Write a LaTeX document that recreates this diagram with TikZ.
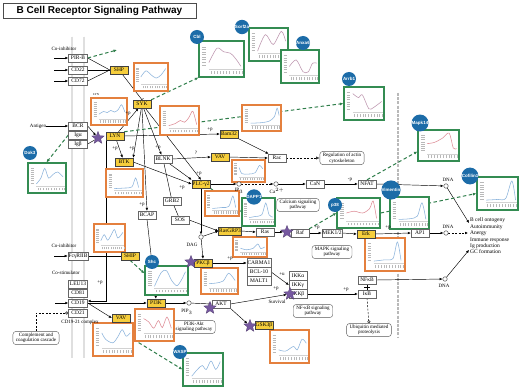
\documentclass[tikz,border=0pt]{standalone}
\usepackage{fontspec}
\setmainfont{Liberation Serif}
\newfontfamily\headfont{Liberation Sans}
\usetikzlibrary{arrows.meta, positioning, shapes.geometric}

\definecolor{kgyellow}{RGB}{246,206,60}
\definecolor{kgorange}{RGB}{228,128,62}
\definecolor{kggreen}{RGB}{52,140,82}
\definecolor{kgblue}{RGB}{28,108,168}
\definecolor{kgpurple}{RGB}{118,88,160}
\definecolor{kgline}{RGB}{140,180,220}
\definecolor{kgpink}{RGB}{222,140,150}
\definecolor{kgmauve}{RGB}{190,150,175}

\pgfdeclarelayer{bg}
\pgfsetlayers{bg,main}

\newcommand{\genefont}{\fontsize{5.5}{6}\selectfont}
\newcommand{\notefont}{\fontsize{5}{5.6}\selectfont}
\newcommand{\dotfont}{\headfont\bfseries\fontsize{4.5}{5}\selectfont}

% expression panel: name, style, x1, y1, x2, y2, colour, profile
\newcommand{\datapanel}[8]{%
  \node[#2, minimum width={#5pt-#3pt}, minimum height={#6pt-#4pt}] (#1) at ({(#3+#5)/2},{(#4+#6)/2}) {};
  \begin{scope}[shift={(#3,#6)}, xscale={(#5-#3)/10}, yscale={-(#6-#4)/10}]
    \foreach \k in {3.4,4.1,...,9} \draw[gray!55, line width=0.5pt] (0.7,\k) -- (1.6,\k);
    \foreach \k in {2.6,3.3,...,9.6} \draw[gray!55, line width=0.4pt] (\k,0.9) -- (\k,1.8);
    \draw[gray!35, line width=0.3pt] (2.2,2.3) -- (9.7,2.3);
    \draw[#7, line width=0.55pt] plot[smooth, tension=0.5] coordinates {#8};
  \end{scope}}

\begin{document}
\begin{tikzpicture}[x=1pt, y=-1pt,
    gene/.style={draw=black!75, fill=kgyellow, font=\genefont, inner sep=0.6pt, minimum width=18pt, minimum height=8pt},
    wgene/.style={gene, fill=white, draw=black!60},
    rec/.style={wgene, minimum width=19pt},
    cpd/.style={circle, draw=black!80, fill=white, inner sep=0pt, minimum size=4.5pt},
    pway/.style={draw=black!65, fill=white, rounded corners=3pt, align=center, font=\notefont, inner xsep=3pt, inner ysep=1.5pt},
    lbl/.style={font=\notefont, inner sep=0pt},
    obox/.style={draw=kgorange, line width=1.1pt, fill=white, inner sep=0pt},
    gbox/.style={draw=kggreen, line width=1.1pt, fill=white, inner sep=0pt},
    bdot/.style={circle, fill=kgblue, text=white, font=\dotfont, inner sep=0pt, minimum size=14pt},
    pstar/.style={star, star points=5, star point ratio=2.3, fill=kgpurple, draw=kgpurple!70!black, line width=0.3pt, inner sep=0pt, minimum size=13pt},
    membrane/.style={draw=gray!70, line width=0.8pt, double=gray!25, double distance=1.2pt},
    nucmem/.style={draw=gray!55, line width=2.6pt, dash pattern=on 3pt off 1.2pt},
    arr/.style={-{Latex[length=3pt, width=2.6pt]}, line width=0.45pt},
    ln/.style={line width=0.45pt},
    inh/.style={-{Bar[width=4pt]}, line width=0.45pt},
    darr/.style={arr, dash pattern=on 2pt off 1.5pt},
    garr/.style={-{Latex[length=3.5pt, width=3pt]}, draw=kggreen!90!black, line width=1pt, dash pattern=on 3.5pt off 2.5pt}
]
\useasboundingbox (0,0) rectangle (520,390);

\node[draw=black!70, fill=white, font=\headfont\bfseries\fontsize{10}{12}\selectfont, minimum width=193pt, minimum height=15pt, inner sep=0pt] (title) at (99.5,10.5) {B Cell Receptor Signaling Pathway};

% pathway maps
\node[pway] (actin) at (342,158) {Regulation of actin\\cytoskeleton};
\node[pway] (calcium) at (298,205) {Calcium signaling\\pathway};
\node[pway] (mapk) at (332,252) {MAPK signaling\\pathway};
\node[pway] (nfkbpath) at (313,311) {NF-κB signaling\\pathway};
\node[pway] (pi3kpath) at (194,327) {PI3K-Akt\\signaling pathway};
\node[pway] (ubiq) at (369,330) {Ubiquitin mediated\\proteolysis};
\node[pway] (compl) at (36,338) {Complement and\\coagulation cascade};

% expression panels
\datapanel{dshp}{obox}{134}{63}{168}{91}{kgline}{(2,5) (3.5,7.2) (5,5.8) (6.5,4.6) (8,5.8) (9.3,8)}
\datapanel{dlyn}{obox}{91}{98}{127}{125}{kgline}{(2.2,4) (3.5,5) (4.5,4.6) (5.5,5.4) (6.5,4.8) (7.5,5.6) (8.5,7.5) (9.4,4.8)}
\datapanel{dsyk}{obox}{160}{106}{199}{135}{kgpink}{(2.2,3.2) (4,4) (5.2,5) (6.3,4.4) (7.4,6) (8.4,8.2) (9.4,3.6)}
\datapanel{dbam}{obox}{242}{105}{281}{131}{kgline}{(2.2,3) (5,3.2) (7,3.8) (8.3,5.5) (9,8.8) (9.5,6)}
\datapanel{dbtk}{obox}{106}{169}{143}{197}{kgline}{(2.2,3) (5,3.2) (7,3.6) (8,6.8) (8.8,3.4)}
\datapanel{dvav}{obox}{232}{160}{265}{182}{kgline}{(2.2,6.5) (3,3.8) (5,3.6) (7,4.2) (8.3,7.5) (9.3,6)}
\datapanel{dplc}{obox}{205}{191}{239}{216}{kgline}{(2.2,3) (5,3.4) (7,3.8) (8.2,8) (9,3.4)}
\datapanel{dship}{obox}{94}{224}{125}{252}{kgline}{(2.2,4) (3.3,6.2) (4.4,4.2) (5.5,6) (6.6,8) (7.7,5) (9.3,7)}
\datapanel{dras}{obox}{233}{237}{267}{257}{kgline}{(2.2,4.4) (4,3.6) (6,4.4) (7.3,6.5) (8.2,4.2) (9.3,5)}
\datapanel{derk}{obox}{365}{238}{405}{271}{kgline}{(2.2,3) (5,3.4) (7,3.8) (8.1,8.8) (9,3.2)}
\datapanel{dpkc}{obox}{201}{268}{238}{294}{kgline}{(2.2,4) (4,4.2) (6,5) (7.5,8) (9.2,5.2)}
\datapanel{dpi}{obox}{135}{309}{174}{341}{kgpink}{(2.2,7) (3.5,6) (4.8,4) (6,6.4) (7,4.2) (8.2,7.5) (9.3,4)}
\datapanel{dvavb}{obox}{93}{323}{133}{356}{kgline}{(2.2,7) (3.2,5) (5,4) (6.3,6) (7.3,8) (8.3,6) (9.3,7)}
\datapanel{dgsk}{obox}{270}{330}{309}{363}{kgline}{(2.2,4) (4,3.6) (6,5) (7,4) (8.2,7.2) (9.3,6)}
\datapanel{dcbl}{gbox}{199}{41}{244}{77}{kgmauve}{(2.2,4) (4,8) (5.5,7) (7,6.6) (8.2,5) (9.3,3)}
\datapanel{dsorf}{gbox}{249}{28}{288}{61}{kgmauve}{(2.2,3) (4.2,8) (6.2,5) (8.3,9) (9.4,6)}
\datapanel{danx}{gbox}{281}{50}{319}{83}{kgmauve}{(2.2,5) (4,7) (5.8,3.4) (7.2,3.4) (8.3,6) (9.4,6)}
\datapanel{darrb}{gbox}{344}{87}{384}{120}{kgmauve}{(2.2,8) (3.6,6.8) (4.6,7.6) (6.2,3.4) (7.4,3.8) (9.4,5.6)}
\datapanel{dmapk}{gbox}{418}{130}{459}{161}{kgpink}{(2.2,5.6) (4,6) (6,7.4) (7.6,9) (8.6,4.2) (9.4,4)}
\datapanel{dcof}{gbox}{477}{177}{518}{210}{kgline}{(2.2,3) (5,3.2) (7,3.5) (8.5,8.8) (9.4,3)}
\datapanel{dvim}{gbox}{390}{197}{429}{229}{kgline}{(2.2,3) (5,3.2) (7,4) (8.2,8.2) (9.2,3)}
\datapanel{dp38}{gbox}{337}{198}{380}{228}{kgpink}{(2.2,5) (4,5.6) (6,5) (7.6,6.5) (8.4,9) (9.2,3.2)}
\datapanel{ddapp}{gbox}{242}{198}{275}{226}{kgline}{(2.2,3) (4,3.4) (6,4) (7.2,8.2) (8.2,4) (9.3,3.2)}
\datapanel{ddok}{gbox}{28}{163}{66}{193}{kgline}{(2.2,3) (3.4,5) (4.4,8.2) (5.4,5) (6.6,6.2) (7.8,7) (9.2,5.4)}
\datapanel{dshc}{gbox}{145}{266}{188}{295}{kgline}{(2.2,3) (3.8,7.8) (5,8.4) (6.2,5) (7.4,3.2) (8.4,5) (9.4,8)}
\datapanel{dwasp}{gbox}{183}{353}{223}{386}{kgline}{(2.2,3) (3.6,5) (4.8,6.2) (5.8,5) (7,7.6) (8.2,5) (9.3,7.4)}

% receptors in the membrane
\node[rec] (pirb) at (78,58) {PIR-B};
\node[rec] (cd22) at (78,70) {CD22};
\node[rec] (cd72) at (78,81) {CD72};
\node[rec] (bcr) at (78,126) {BCR};
\node[rec] (iga) at (78,135) {Igα};
\node[rec] (igb) at (78,144) {Igβ};
\node[rec] (fcg) at (78,256) {FcγRIIB};
\node[rec] (leu) at (78,284) {LEU13};
\node[rec] (cd81) at (78,293) {CD81};
\node[rec] (cd19) at (78,303) {CD19};
\node[rec] (cd21) at (78,313) {CD21};

% genes
\node[gene] (shp) at (119,70) {SHP};
\node[gene] (syk) at (142,104) {SYK};
\node[gene] (lyn) at (115,136) {LYN};
\node[gene] (btk) at (124,162) {BTK};
\node[wgene] (blnk) at (163,159) {BLNK};
\node[gene] (bam) at (229,134) {Bam32};
\node[gene] (vav) at (220,157) {VAV};
\node[wgene] (rac) at (277,158) {Rac};
\node[gene] (plc) at (201,184) {PLC-γ2};
\node[wgene] (grb) at (172,201) {GRB2};
\node[wgene] (sos) at (180,220) {SOS};
\node[wgene] (bcap) at (147,215) {BCAP};
\node[wgene] (can) at (315,184) {CaN};
\node[wgene] (nfat) at (367,184) {NFAT};
\node[gene] (rasgrp) at (230,231) {RasGRP3};
\node[wgene] (ras) at (265,232) {Ras};
\node[wgene] (raf) at (300,233) {Raf};
\node[wgene] (mek) at (332,233) {MEK1/2};
\node[gene] (erk) at (366,234) {Erk};
\node[wgene] (ap1) at (420,233) {AP1};
\node[gene] (pkc) at (203,263) {PKCβ};
\node[wgene, minimum width=24pt, minimum height=9pt] (carma) at (259,263) {CARMA1};
\node[wgene, minimum width=24pt, minimum height=9pt] (bcl) at (259,272) {BCL-10};
\node[wgene, minimum width=24pt, minimum height=9pt] (malt) at (259,281) {MALT1};
\node[wgene, minimum height=9pt] (ikka) at (298,276) {IKKα};
\node[wgene, minimum height=9pt] (ikkg) at (298,285) {IKKγ};
\node[wgene, minimum height=9pt] (ikkb) at (298,294) {IKKβ};
\node[gene] (shipb) at (130,256) {SHIP};
\node[gene] (pi3k) at (156,303) {PI3K};
\node[wgene] (akt) at (221,304) {AKT};
\node[gene] (vavb) at (121,318) {VAV};
\node[gene] (gsk) at (264,325) {GSK3β};
\node[wgene] (nfkb) at (367,280) {NFκB};
\node[wgene] (ikb) at (367,294) {IκB};

% compounds
\node[cpd] (ip3) at (239,184) {};
\node[cpd] (ca) at (276,184) {};
\node[cpd] (dag) at (201,237) {};
\node[cpd] (pip3) at (189,303) {};
\node[cpd] (dna1) at (446,186) {};
\node[cpd] (dna2) at (446,233) {};
\node[cpd] (dna3) at (445,279) {};

% texts
\node[lbl] (coinh1) at (64,49) {Co-inhibitor};
\node[lbl] (antigen) at (38,126) {Antigen};
\node[lbl] (coinh2) at (64,246) {Co-inhibitor};
\node[lbl] (costim) at (66,273) {Co-stimulator};
\node[lbl] (cdcplx) at (80,322) {CD19-21 complex};
\node[lbl] (surv) at (277,302) {Survival};
\node[lbl, font=\fontsize{3}{3}\selectfont] (lyntag) at (96,95) {LYN};
\node[lbl] (ip3t) at (239,191) {IP$_3$};
\node[lbl] (cat) at (277,191) {Ca$^{2+}$};
\node[lbl] (dagt) at (192,245) {DAG};
\node[lbl] (pip3t) at (187,312) {PIP$_3$};
\node[lbl] (dnat1) at (448,180) {DNA};
\node[lbl] (dnat2) at (448,227) {DNA};
\node[lbl] (dnat3) at (444,286) {DNA};
\node[lbl, anchor=west, align=left, font=\fontsize{5.5}{6.4}\selectfont] (outc) at (470,236) {B cell ontogeny\\Autoimmunity\\Anergy\\Immune response\\Ig production\\GC formation};
\node[lbl] (p1) at (128,114) {+p};
\node[lbl] (p2) at (115,149) {+p};
\node[lbl] (p3) at (132,149) {+p};
\node[lbl] (p4) at (158,148) {+p};
\node[lbl] (p5) at (199,174) {+p};
\node[lbl] (p6) at (182,188) {+p};
\node[lbl] (p7) at (142,205) {+p};
\node[lbl] (p8) at (210,130) {+p};
\node[lbl] (p9) at (100,283) {+p};
\node[lbl] (q1) at (196,153) {?};
\node[lbl] (p10) at (350,180) {-p};
\node[lbl] (p11) at (317,228) {+p};
\node[lbl] (p12) at (388,228) {+p};
\node[lbl] (p13) at (230,259) {+p};
\node[lbl] (u1) at (282,274) {+u};
\node[lbl] (p14) at (276,289) {+p};
\node[lbl] (p15) at (346,290) {+p};

% free ends
\coordinate (ci1) at (54,58);
\coordinate (ci2) at (54,70);
\coordinate (ci3) at (54,81);
\coordinate (ci4) at (54,256);
\coordinate (cs1) at (55,303);
\coordinate (g1) at (117,50);
\coordinate (o1) at (469,223);
\coordinate (o2) at (468,233);
\coordinate (o3) at (469,250);

% modifications
\node[pstar] (s1) at (98,138) {};
\node[pstar] (s2) at (287,232) {};
\node[pstar] (s3) at (191,262) {};
\node[pstar] (s4) at (210,308) {};
\node[pstar] (s5) at (290,294) {};
\node[pstar] (s6) at (250,326) {};

% markers of the panels
\node[bdot] (cblc) at (197,37) {Cbl};
\node[bdot] (sorfc) at (242,27) {Sorf2a};
\node[bdot] (anxc) at (303,43) {Anxa6};
\node[bdot] (arrbc) at (349,79) {Arrb1};
\node[bdot] (mapkc) at (420,123) {Mapk14};
\node[bdot] (vimc) at (391,190) {Vimentin};
\node[bdot] (cofc) at (470,176) {Cofilin1};
\node[bdot] (dokc) at (30,153) {Dok3};
\node[bdot] (dappc) at (254,197) {DAPP1};
\node[bdot] (p38c) at (335,205) {p38};
\node[bdot] (shcc) at (152,262) {Shc};
\node[bdot] (waspc) at (180,352) {WASP};

\begin{pgfonlayer}{bg}
\fill[white] (0,0) rectangle (520,390);
\draw[membrane] (72,37) -- (72,358);
\draw[membrane] (84,37) -- (84,358);
\draw[nucmem] (398,93) -- (398,338);

\draw[arr] (ci1) -- (pirb);
\draw[arr] (ci2) -- (cd22);
\draw[arr] (ci3) -- (cd72);
\draw[arr] (antigen) -- (bcr);
\draw[arr] (ci4) -- (fcg);
\draw[arr] (cs1) -- (cd19);
\draw[ln] (pirb.east) -- (shp.west);
\draw[ln] (cd22.east) -- (shp.west);
\draw[ln] (cd72.east) -- (shp.west);
\draw[arr] (bcr.east) -- (s1);
\draw[ln] (igb.east) -- (s1);
\draw[arr] (lyn) -- (syk);
\draw[inh] (shp) -- (syk.north);
\draw[arr] (lyn) -- (btk);
\draw[arr] (syk) -- (btk.north east);
\draw[arr] (syk) -- (blnk);
\draw[arr] (syk) -- (plc.north);
\draw[arr] (syk.south) -- (bcap.north);
\draw[arr] (lyn.east) -- (bam.west);
\draw[arr] (bam) -- (rac);
\draw[arr] (blnk.east) -- (vav.west);
\draw[arr] (vav.east) -- (rac.west);
\draw[darr, -{Latex[open, length=3.5pt, width=3pt]}] (rac.east) -- (actin.west);
\draw[arr] (btk.east) -- (plc.west);
\draw[arr] (blnk) -- (plc.north west);
\draw[ln] (blnk) -- (grb);
\draw[ln] (grb) -- (sos);
\draw[arr] (sos.east) -- (rasgrp.west);
\draw[arr] (plc.east) -- (ip3);
\draw[darr] (ip3) -- (ca);
\draw[arr] (ca) -- (can.west);
\draw[arr] (can.east) -- (nfat.west);
\draw[arr] (nfat.east) -- (dna1);
\draw[arr] (dna1) -- (o1);
\draw[darr] (dna2) -- (o2);
\draw[arr] (dna3) -- (o3);
\draw[arr] (plc.south) -- (dag);
\draw[arr] (dag) -- (rasgrp.west);
\draw[arr] (dag) -- (pkc.north);
\draw[arr] (rasgrp.east) -- (ras.west);
\draw[arr] (ras.east) -- (s2);
\draw[arr] (raf.east) -- (mek.west);
\draw[arr] (mek.east) -- (erk.west);
\draw[arr] (erk.east) -- (ap1.west);
\draw[arr] (ap1.east) -- (dna2);
\draw[arr] (pkc.east) -- (carma.west);
\draw[arr] (bcl.east) -- (ikkg.west);
\draw[arr] (akt.east) -- (s5);
\draw[arr] (ikkb.east) -- (ikb.west);
\draw[ln] (nfkb.south) -- (ikb.north) coordinate[pos=0.5] (nfmid);
\draw[ln] (nfmid) ++(-3,0) -- ++(6,0);
\draw[arr] (nfkb.east) -- (dna3);
\draw[dash pattern=on 2pt off 1.5pt, line width=0.45pt, -{Circle[open, length=3pt]}] (ikb.south) -- (ubiq.north);
\draw[dash pattern=on 2pt off 1.5pt, line width=0.45pt, -{Circle[open, length=3pt]}] (compl.north) |- (cd21.west);
\draw[arr] (lyn.south west) |- ([yshift=2pt]cd19.east);
\draw[arr] (cd19.east) -- (pi3k.west);
\draw[arr] (cd19.east) -- (vavb.west);
\draw[ln] (fcg.east) -- (shipb.west);
\draw[arr] (bcap.south) -- (pi3k.north);
\draw[arr] (pi3k.east) -- (pip3);
\draw[arr] (pip3) -- (akt.west);
\draw[arr] (akt.south east) -- (s6);

\draw[garr] (pirb.east) -- (g1);
\draw[garr] (syk.north east) -- (dcbl.south west);
\draw[garr] (lyn.north east) -- (darrb.west);
\draw[garr] (iga.west) -- ([xshift=19pt]ddok.north west);
\draw[garr] (raf.north east) -- (dp38.west);
\draw[garr] (nfat.north) -- ([yshift=-6pt]dmapk.west);
\draw[garr] (dp38.east) -- (dcof.west);
\draw[garr] (plc.south east) -- (ddapp.west);
\draw[garr] (shipb.south) -- ([yshift=-8pt]dshc.north west);
\draw[garr] (dvavb.east) -- (dwasp.west);
\end{pgfonlayer}
\end{tikzpicture}
\end{document}
